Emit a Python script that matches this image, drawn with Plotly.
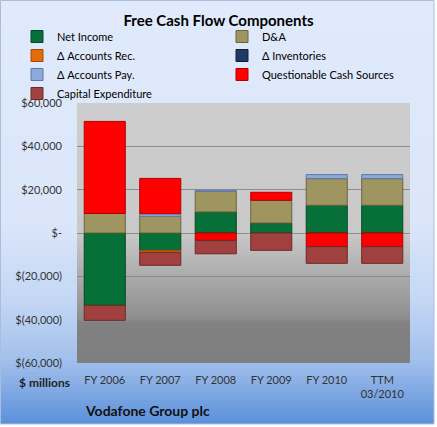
import plotly.graph_objects as go

# ---------------- data ----------------
categories = ["FY 2006", "FY 2007", "FY 2008", "FY 2009", "FY 2010", "TTM<br>03/2010"]
net_income = [-33400, -8000, 9700, 4600, 12800, 12800]
d_and_a = [9000, 7700, 9500, 10500, 12300, 12300]
accounts_rec = [None, -900, None, None, None, None]
inventories = [None, None, None, None, None, None]
accounts_pay = [None, 1200, 500, None, 1850, 1850]
questionable = [42500, 16300, -3400, 3700, -6300, -6300]
capex = [-6900, -6000, -6200, -8000, -7700, -7700]

tick_vals = [60000, 40000, 20000, 0, -20000, -40000, -60000]
tick_text = ["$60,000", "$40,000", "$20,000", "$-", "$(20,000)", "$(40,000)", "$(60,000)"]

series = [
    ("Net Income", net_income, "#067038", "#034a24"),
    ("\u0394 Accounts Rec.", accounts_rec, "#e46c0a", "#a14a05"),
    ("\u0394 Inventories", inventories, "#1f3864", "#111f38"),
    ("\u0394 Accounts Pay.", accounts_pay, "#8eaadb", "#5d78a8"),
    ("D&A", d_and_a, "#9e9560", "#6b6540"),
    ("Questionable Cash Sources", questionable, "#ff0000", "#b00000"),
    ("Capital Expenditure", capex, "#a0413f", "#6e2826"),
]
legend_rank = {"Net Income": 1, "D&A": 2, "\u0394 Accounts Rec.": 3, "\u0394 Inventories": 4,
               "\u0394 Accounts Pay.": 5, "Questionable Cash Sources": 6, "Capital Expenditure": 7}
stack_order = ["Net Income", "D&A", "\u0394 Accounts Rec.", "\u0394 Inventories",
               "\u0394 Accounts Pay.", "Questionable Cash Sources", "Capital Expenditure"]

W, H = 437, 427
L, R, T, B = 77, 410, 103, 363


def px2x(px):
    return (px - L) / (R - L)


def px2y(py):
    return (B - py) / (B - T)


def lerp(c1, c2, t):
    a = [int(c1[i:i + 2], 16) for i in (1, 3, 5)]
    b = [int(c2[i:i + 2], 16) for i in (1, 3, 5)]
    return "rgb(%d,%d,%d)" % tuple(round(a[k] + (b[k] - a[k]) * t) for k in range(3))


def grad_color(stops, y):
    for (y0, c0), (y1, c1) in zip(stops, stops[1:]):
        if y0 <= y <= y1:
            return lerp(c0, c1, (y - y0) / (y1 - y0) if y1 > y0 else 0)
    return lerp(stops[-1][1], stops[-1][1], 0)


shapes = []
outer_stops = [(0, "#e0eafc"), (220, "#dbe6fa"), (300, "#c4d7f4"), (360, "#a2c0ec"), (424, "#5b90da")]
step = 4
for y in range(0, 424, step):
    c = grad_color(outer_stops, y + step / 2)
    shapes.append(dict(type="rect", xref="paper", yref="paper", layer="below",
                       x0=px2x(0), x1=px2x(434), y0=px2y(y), y1=px2y(min(y + step + 0.6, 424)),
                       fillcolor=c, line=dict(width=0)))
inner_stops = [(103, "#cdcdcd"), (233, "#c9c9c9"), (318, "#8e8e8e"), (322, "#818181"), (363, "#7f7f7f")]
step = 3
for y in range(T, B, step):
    c = grad_color(inner_stops, y + step / 2)
    shapes.append(dict(type="rect", xref="paper", yref="paper", layer="below",
                       x0=0, x1=1, y0=px2y(y), y1=px2y(min(y + step + 0.6, B)),
                       fillcolor=c, line=dict(width=0)))
shapes.append(dict(type="rect", xref="paper", yref="paper", layer="above",
                   x0=px2x(0.5), x1=px2x(434), y0=px2y(0.5), y1=px2y(424),
                   line=dict(color="#a9bddd", width=1), fillcolor="rgba(0,0,0,0)"))

fig = go.Figure()
lookup = {s[0]: s for s in series}
for name in stack_order:
    _, vals, col, edge = lookup[name]
    fig.add_trace(go.Bar(
        x=categories, y=vals, name=name,
        marker=dict(color=col, line=dict(color=edge, width=1)),
        legendrank=legend_rank[name],
    ))

font_family = "Lato, 'Open Sans', sans-serif"
fig.update_layout(
    width=W, height=H,
    margin=dict(l=L, r=W - R, t=T, b=H - B),
    paper_bgcolor="white",
    plot_bgcolor="rgba(0,0,0,0)",
    barmode="relative",
    bargap=0.26,
    font=dict(family=font_family, size=11, color="#222"),
    title=dict(text="<b>Free Cash Flow Components</b>", x=0.5, xref="container", xanchor="center",
               y=1 - 21 / H, yanchor="middle", font=dict(size=15, color="black")),
    legend=dict(orientation="h", x=px2x(17), xanchor="left", y=px2y(22), yanchor="top",
                entrywidth=160, entrywidthmode="pixels", traceorder="normal",
                font=dict(size=11, color="black"), bgcolor="rgba(0,0,0,0)",
                itemwidth=30, tracegroupgap=0),
    shapes=shapes,
    showlegend=True,
)
fig.update_yaxes(
    range=[-60000, 60000], tickvals=tick_vals, ticktext=tick_text,
    showgrid=True, gridcolor="#8c8c8c", gridwidth=1,
    zeroline=True, zerolinecolor="#8c8c8c", zerolinewidth=1,
    ticks="", ticklabelstandoff=14, tickfont=dict(size=11, color="#333"),
    showline=False, fixedrange=True,
)
fig.update_xaxes(
    showgrid=False, ticks="", showline=False, ticklabelstandoff=9,
    tickfont=dict(size=11, color="#333"),
)
fig.add_annotation(text="<b>$ millions</b>", xref="paper", yref="paper",
                   x=px2x(44), y=px2y(382), xanchor="center", yanchor="middle",
                   showarrow=False, font=dict(size=12, color="#222"))
fig.add_annotation(text="<b>Vodafone Group plc</b>", xref="paper", yref="paper",
                   x=px2x(83), y=px2y(410), xanchor="left", yanchor="middle",
                   showarrow=False, font=dict(size=14, color="#111"))

fig.write_html("out.html")
